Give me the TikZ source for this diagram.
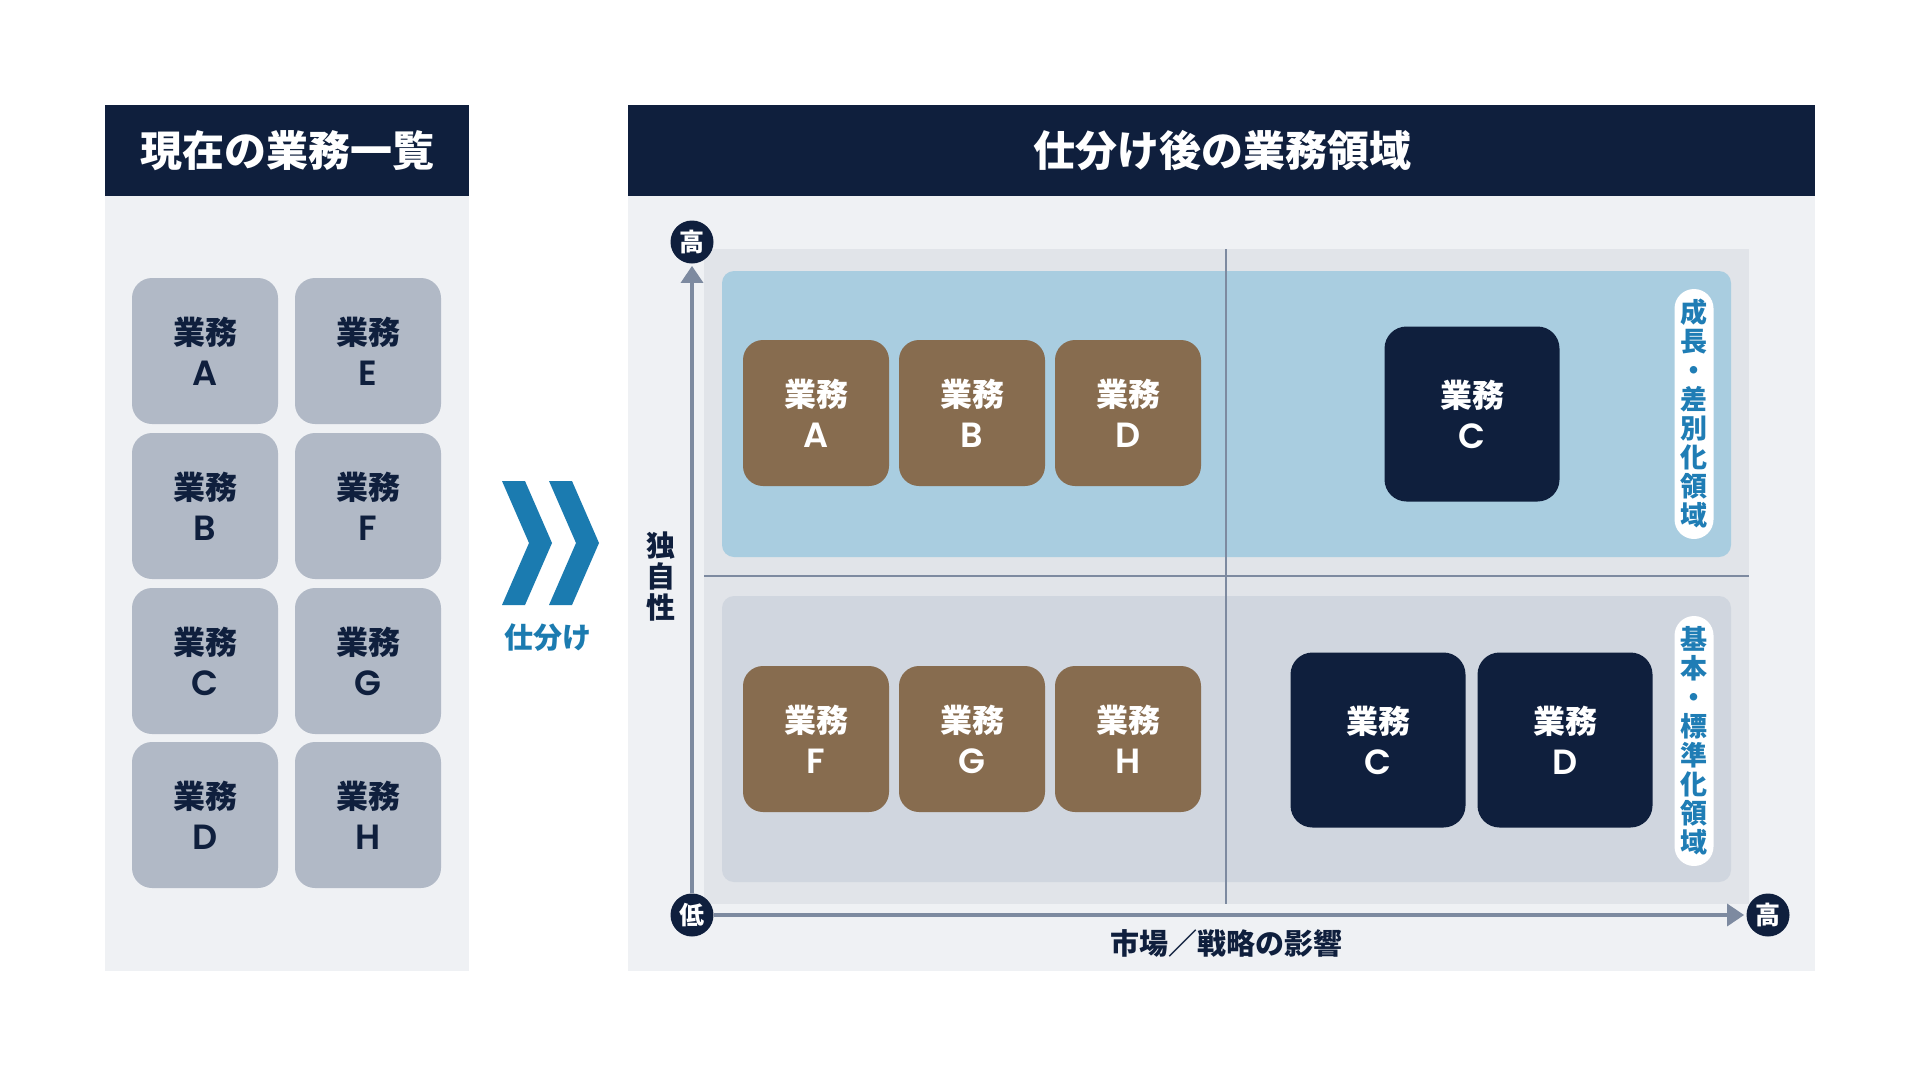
\documentclass[tikz,border=0pt]{standalone}
\usepackage{fontspec}
\setmainfont{Noto Sans CJK JP}
\newfontfamily\latinfont{Poppins}[UprightFont=*-SemiBold,BoldFont=*-SemiBold]
\usetikzlibrary{arrows.meta}
\definecolor{navy}{HTML}{0F1F3D}
\definecolor{panelbg}{HTML}{EFF1F4}
\definecolor{taskgrey}{HTML}{B1B9C6}
\definecolor{quadbg}{HTML}{E1E4E9}
\definecolor{growblue}{HTML}{A9CDE0}
\definecolor{basegrey}{HTML}{D0D6DF}
\definecolor{taskbrown}{HTML}{876C4F}
\definecolor{axisgrey}{HTML}{7D8AA0}
\definecolor{chevblue}{HTML}{1B7BB0}
\definecolor{pillblue}{HTML}{1F7DB5}
\newcommand{\tasklbl}[1]{業務\\[-0.5pt]{\latinfont\fontsize{17.5}{21}\selectfont #1}}
\begin{document}
\begin{tikzpicture}[x=0.5pt,y=-0.5pt,
    headtext/.style={text=white,font=\bfseries\fontsize{21}{24}\selectfont},
    task/.style={rounded corners=10pt,minimum width=73pt,minimum height=73pt,inner sep=0pt,
        align=center,font=\bfseries\fontsize{16}{21}\selectfont},
    oldtask/.style={task,fill=taskgrey,text=navy},
    keeptask/.style={task,fill=taskbrown,text=white},
    movetask/.style={task,fill=navy,text=white,rounded corners=11pt,minimum width=87.5pt,minimum height=87.5pt},
    pill/.style={fill=white,text=pillblue,rounded corners=9.75pt,minimum width=19.5pt,minimum height=125pt,
        inner sep=0pt,align=center,font=\bfseries\fontsize{13.5}{14.5}\selectfont},
    level/.style={circle,fill=navy,text=white,minimum size=21.5pt,inner sep=0pt,
        font=\bfseries\fontsize{12.5}{12.5}\selectfont},
    axisline/.style={axisgrey,line width=1.7pt,-{Triangle[width=11pt,length=8.5pt]}},
    midline/.style={axisgrey,line width=0.7pt},
    axistext/.style={text=navy,font=\bfseries\fontsize{14.5}{15.5}\selectfont,align=center}]
    \useasboundingbox (0,0) rectangle (1920,1076);
    \fill[white] (0,0) rectangle (1920,1076);
    \fill[panelbg] (105,105) rectangle (469,971);
    \fill[navy] (105,105) rectangle (469,196);
    \node[headtext] (listhead) at (287,151) {現在の業務一覧};
    \node[oldtask] (oldA) at (205,351) {\tasklbl{A}};
    \node[oldtask] (oldB) at (205,506) {\tasklbl{B}};
    \node[oldtask] (oldC) at (205,661) {\tasklbl{C}};
    \node[oldtask] (oldD) at (205,815) {\tasklbl{D}};
    \node[oldtask] (oldE) at (368,351) {\tasklbl{E}};
    \node[oldtask] (oldF) at (368,506) {\tasklbl{F}};
    \node[oldtask] (oldG) at (368,661) {\tasklbl{G}};
    \node[oldtask] (oldH) at (368,815) {\tasklbl{H}};
    \foreach \dx in {0,47}
        \fill[chevblue] ({502+\dx},481) -- ({525+\dx},481) -- ({552+\dx},543) -- ({525+\dx},605)
            -- ({502+\dx},605) -- ({529+\dx},543) -- cycle;
    \node[text=chevblue,font=\bfseries\fontsize{14.5}{15}\selectfont] (sortlbl) at (548,638) {仕分け};
    \fill[panelbg] (628,105) rectangle (1815,971);
    \fill[navy] (628,105) rectangle (1815,196);
    \node[headtext] (maphead) at (1222,151) {仕分け後の業務領域};
    \fill[quadbg] (704,249) rectangle (1749,904);
    \fill[growblue,rounded corners=6pt] (722,271) rectangle (1731,557);
    \fill[basegrey,rounded corners=6pt] (722,596) rectangle (1731,882);
    \draw[midline] (704,576) -- (1749,576);
    \draw[midline] (1226,249) -- (1226,904);
    \node[keeptask] (upA) at (816,413) {\tasklbl{A}};
    \node[keeptask] (upB) at (972,413) {\tasklbl{B}};
    \node[keeptask] (upD) at (1128,413) {\tasklbl{D}};
    \node[movetask] (upC) at (1472,414) {\tasklbl{C}};
    \node[keeptask] (lowF) at (816,739) {\tasklbl{F}};
    \node[keeptask] (lowG) at (972,739) {\tasklbl{G}};
    \node[keeptask] (lowH) at (1128,739) {\tasklbl{H}};
    \node[movetask] (lowC) at (1378,740) {\tasklbl{C}};
    \node[movetask] (lowD) at (1565,740) {\tasklbl{D}};
    \node[pill] (growlbl) at (1694,414) {成\\長\\・\\差\\別\\化\\領\\域};
    \node[pill] (baselbl) at (1694,741) {基\\本\\・\\標\\準\\化\\領\\域};
    \node[level] (hiy) at (692,242) {高};
    \node[level] (lo) at (692,915) {低};
    \node[level] (hix) at (1768,915) {高};
    \draw[axisline,shorten >=1pt] (lo.north) -- (hiy.south);
    \draw[axisline,shorten >=1pt] (lo.east) -- (hix.west);
    \node[axistext] (ylbl) at (661,577) {独\\自\\性};
    \node[axistext] (xlbl) at (1226,943) {市場／戦略の影響};
\end{tikzpicture}
\end{document}
